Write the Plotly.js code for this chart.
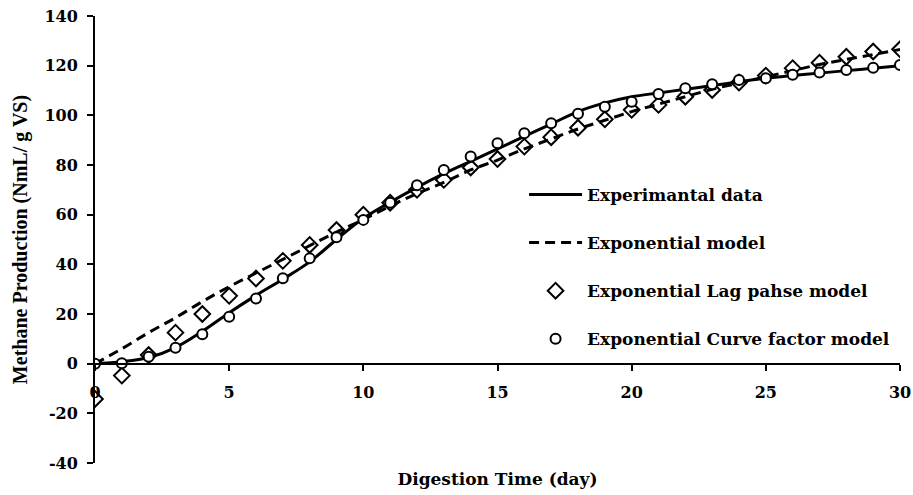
<!DOCTYPE html>
<html>
<head>
<meta charset="utf-8">
<script src="https://cdn.plot.ly/plotly-3.0.1.min.js"></script>
<style>html,body{margin:0;padding:0;background:#fff;}#chart{width:913px;height:495px;}</style>
</head>
<body>
<div id="chart"></div>
<script>
const days = [0,1,2,3,4,5,6,7,8,9,10,11,12,13,14,15,16,17,18,19,20,21,22,23,24,25,26,27,28,29,30];
const experimental = [0,0.8,2.5,6.5,13,20.5,27.5,34,41,50,58.5,65,71,76.5,81.5,86.5,91.5,96.5,101.5,105,107.5,109,110.5,112,113.5,115,116,117,118,119,120];
const exponentialModel = [0,6,12.5,18.5,25,31,36.5,42,47.5,53,58,63.5,68.5,73,78,82,86.5,90.5,94.5,98,101.5,104.5,107.5,110.5,113,115.5,118,120.5,122.5,124.5,126.5];
const lagPhaseModel = [-14.2,-4.8,3.5,12.5,20,27.3,34.3,41.4,47.8,53.8,60,64.8,70,74,79,82.4,87.4,91.2,95,98.4,102.2,104.2,107.5,110.2,113.2,116,119,121.2,123.6,125.7,126.6];
const curveFactorModel = [0,0.2,2.8,6.4,11.8,18.9,26.2,34.4,42.4,50.9,57.9,64.8,71.8,78,83.4,88.8,92.8,96.8,100.6,103.5,105.5,108.6,110.9,112.5,114.2,114.9,116.3,117.2,118.3,119.2,120.3];
const seriesNames = ["Experimantal data","Exponential model","Exponential Lag pahse model","Exponential Curve factor model"];
const xTicks = [0,5,10,15,20,25,30];
const yTicks = [-40,-20,0,20,40,60,80,100,120,140];

const wide = "DejaVu Serif, serif";
const times = "Liberation Serif, Times New Roman, serif";
const traces = [
  {x: days, y: experimental, name: seriesNames[0], mode: "lines", line: {color: "#000", width: 3, shape: "spline"}, legendgroup: "a"},
  {x: days, y: exponentialModel, name: seriesNames[1], mode: "lines", line: {color: "#000", width: 3, dash: "10px,6px", shape: "spline"}, legendgroup: "b"},
  {x: days, y: lagPhaseModel, name: seriesNames[2], mode: "markers", marker: {symbol: "diamond-open", size: 12, color: "#000", line: {width: 2, color: "#000"}}, legendgroup: "c"},
  {x: days, y: curveFactorModel, name: seriesNames[3], mode: "markers", marker: {symbol: "circle", size: 10, color: "#fff", line: {width: 2, color: "#000"}}, legendgroup: "d"}
];
const layout = {
  width: 913, height: 495,
  margin: {l: 95, r: 13, t: 16, b: 32},
  paper_bgcolor: "#fff", plot_bgcolor: "#fff",
  showlegend: true,
  legend: {x: 0.533, y: 0.64, xanchor: "left", yanchor: "top", traceorder: "grouped", tracegroupgap: 23,
           itemwidth: 53,
           font: {family: wide, size: 17, color: "#000", weight: "bold"}, bgcolor: "rgba(0,0,0,0)"},
  xaxis: {
    range: [0, 30], tickvals: xTicks, ticktext: xTicks.map(String),
    showgrid: false, zeroline: false, showline: true, linecolor: "#000", linewidth: 2,
    ticks: "outside", ticklen: 6, tickwidth: 2, tickcolor: "#000", ticklabelstandoff: 8,
    anchor: "free", position: 40/180,
    tickfont: {family: wide, size: 16, color: "#000", weight: "bold"},
    title: {text: "Digestion Time (day)", font: {family: wide, size: 17, color: "#000", weight: "bold"}, standoff: 71}
  },
  yaxis: {
    range: [-40, 140], tickvals: yTicks, ticktext: yTicks.map(String),
    showgrid: false, zeroline: false, showline: true, linecolor: "#000", linewidth: 2,
    ticks: "outside", ticklen: 6, tickwidth: 2, tickcolor: "#000", ticklabelstandoff: 6,
    tickfont: {family: wide, size: 16, color: "#000", weight: "bold"},
    title: {text: "Methane Production (NmL/ g VS)", font: {family: times, size: 20, color: "#000", weight: "bold"}, standoff: 11}
  }
};
Plotly.newPlot("chart", traces, layout, {displayModeBar: false, staticPlot: true});
</script>
</body>
</html>
